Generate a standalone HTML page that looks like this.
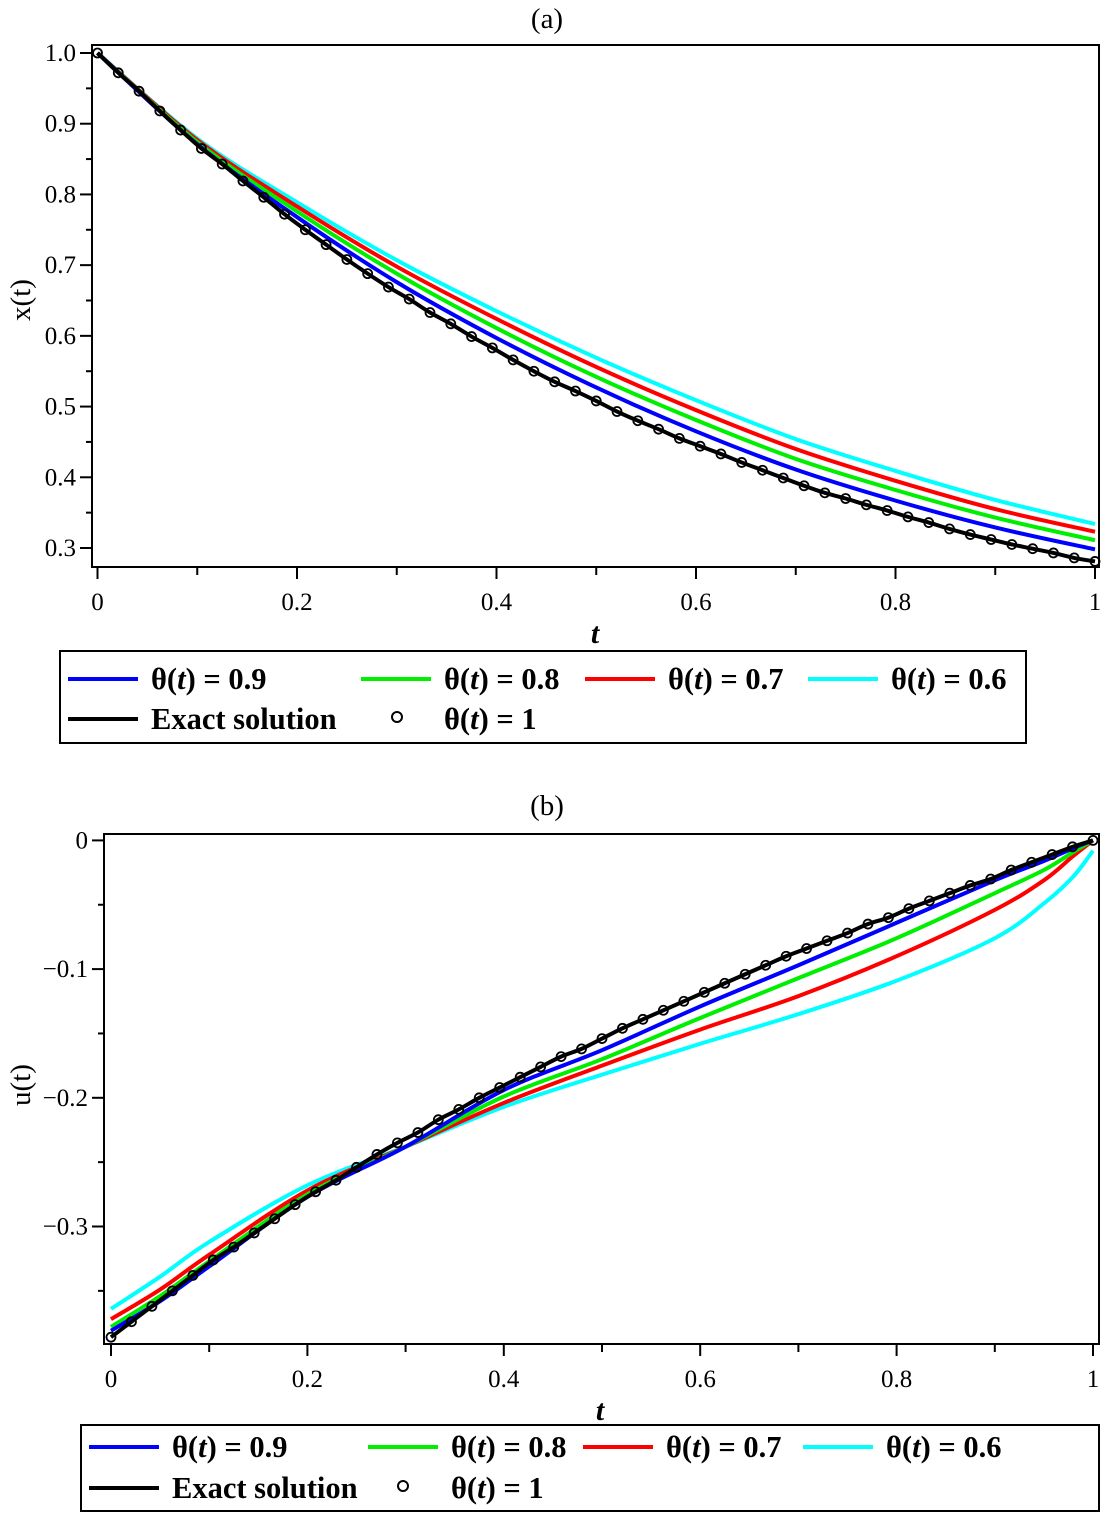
<!DOCTYPE html>
<html><head><meta charset="utf-8"><style>
body{margin:0;background:#fff}
svg{display:block}
text{font-family:"Liberation Serif",serif;fill:#000}
.tk{font-size:25px}
.lg{font-size:30.5px;font-weight:bold}
</style></head><body>
<svg id="s" width="1101" height="1513" viewBox="0 0 1101 1513"></svg>
<script>
// ---- Panel (a) data ----
const aT = [0,0.1,0.2,0.3,0.4,0.5,0.6,0.7,0.8,0.9,1];
const aBlue  = [1,0.871,0.768,0.676,0.597,0.527,0.465,0.411,0.367,0.329,0.298];
const aGreen = [1,0.874,0.776,0.688,0.611,0.542,0.481,0.426,0.382,0.343,0.311];
const aRed   = [1,0.877,0.783,0.698,0.624,0.556,0.495,0.440,0.395,0.355,0.323];
const aCyan  = [1,0.879,0.789,0.707,0.635,0.569,0.509,0.454,0.409,0.368,0.334];
const aExact = [1.0,0.972,0.946,0.918,0.891,0.865,0.843,0.819,0.796,0.772,0.750,0.729,0.708,0.688,0.669,0.652,0.633,0.617,0.599,0.583,0.566,0.550,0.535,0.522,0.508,0.493,0.480,0.468,0.455,0.444,0.433,0.421,0.410,0.399,0.388,0.378,0.370,0.361,0.353,0.344,0.336,0.327,0.319,0.312,0.305,0.299,0.293,0.286,0.281];
const aXTicks = ["0","0.2","0.4","0.6","0.8","1"];
const aYTicks = ["0.3","0.4","0.5","0.6","0.7","0.8","0.9","1.0"];
// ---- Panel (b) data ----
const bT = [0,0.05,0.1,0.2,0.3,0.4,0.5,0.6,0.7,0.8,0.9,0.95,0.98,1];
const bBlue  = [-0.381,-0.358,-0.331,-0.277,-0.238,-0.194,-0.163,-0.129,-0.097,-0.064,-0.031,-0.016,-0.006,0];
const bGreen = [-0.378,-0.354,-0.327,-0.275,-0.238,-0.199,-0.170,-0.138,-0.107,-0.076,-0.041,-0.023,-0.009,0];
const bRed   = [-0.372,-0.349,-0.322,-0.272,-0.238,-0.204,-0.175,-0.147,-0.121,-0.090,-0.054,-0.031,-0.012,0];
const bCyan  = [-0.364,-0.339,-0.312,-0.268,-0.238,-0.207,-0.182,-0.158,-0.135,-0.109,-0.076,-0.049,-0.028,-0.008];
const bExact = [-0.386,-0.374,-0.362,-0.350,-0.338,-0.326,-0.316,-0.305,-0.294,-0.283,-0.273,-0.264,-0.254,-0.244,-0.235,-0.227,-0.217,-0.209,-0.200,-0.192,-0.184,-0.176,-0.168,-0.162,-0.154,-0.146,-0.139,-0.132,-0.125,-0.118,-0.111,-0.104,-0.097,-0.090,-0.084,-0.078,-0.072,-0.065,-0.060,-0.053,-0.047,-0.041,-0.035,-0.030,-0.023,-0.017,-0.011,-0.005,0];
const bXTicks = ["0","0.2","0.4","0.6","0.8","1"];
const bYTicks = ["0","−0.1","−0.2","−0.3"];

const NS="http://www.w3.org/2000/svg";
const svg=document.getElementById('s');
function mk(tag,attrs,parent,txt){const e=document.createElementNS(NS,tag);for(const k in attrs)e.setAttribute(k,attrs[k]);if(txt!==undefined)e.textContent=txt;(parent||svg).appendChild(e);return e;}
function smooth(pts){let d="M"+pts[0][0].toFixed(2)+","+pts[0][1].toFixed(2);for(let i=0;i<pts.length-1;i++){const p0=pts[Math.max(0,i-1)],p1=pts[i],p2=pts[i+1],p3=pts[Math.min(pts.length-1,i+2)];const c1=[p1[0]+(p2[0]-p0[0])/6,p1[1]+(p2[1]-p0[1])/6],c2=[p2[0]-(p3[0]-p1[0])/6,p2[1]-(p3[1]-p1[1])/6];d+="C"+c1[0].toFixed(2)+","+c1[1].toFixed(2)+" "+c2[0].toFixed(2)+","+c2[1].toFixed(2)+" "+p2[0].toFixed(2)+","+p2[1].toFixed(2);}return d;}

function panel(cfg){
  const g=mk('g',{});
  
  
  const X=t=>cfg.x0+(cfg.x1-cfg.x0)*t;
  const Y=v=>cfg.yA+(cfg.yB-cfg.yA)*(v-cfg.vA)/(cfg.vB-cfg.vA);
  const tt=mk('text',{x:547,y:cfg.titleY,'text-anchor':'middle','font-size':'29'},g,cfg.title);
  
  
  for(let i=0;i<=10;i++){const t=i/10;const major=i%2==0;
    mk('line',{x1:X(t),x2:X(t),y1:cfg.fb,y2:cfg.fb+(major?12:8),stroke:'#000','stroke-width':2},g);}
  cfg.xt.forEach((l,i)=>{const e=mk('text',{x:X(i*0.2),y:cfg.fb+43,'text-anchor':'middle',class:'tk'},g,l);
    
    });
  cfg.yticks.forEach(v=>{mk('line',{x1:cfg.fl-12,x2:cfg.fl,y1:Y(v),y2:Y(v),stroke:'#000','stroke-width':2},g);});
  cfg.yminor.forEach(v=>{mk('line',{x1:cfg.fl-6,x2:cfg.fl,y1:Y(v),y2:Y(v),stroke:'#000','stroke-width':2},g);});
  cfg.yt.forEach((l,i)=>{const e=mk('text',{x:cfg.fl-16,y:Y(cfg.yticks[i])+8,'text-anchor':'end',class:'tk'},g,l);
    
    });
  const xl=mk('text',{x:cfg.tX,y:cfg.tY,'text-anchor':'middle','font-size':'30','font-weight':'bold','font-style':'italic'},g,'t');
  
  
  const yl=mk('text',{x:0,y:0,'text-anchor':'middle','font-size':'29',transform:`translate(${cfg.ylX},${cfg.ylY}) rotate(-90)`},g,cfg.ylab);
  
  
  cfg.series.forEach(s=>{
    const pts=s.t.map((t,i)=>[X(t),Y(s.v[i])]);
    const p=mk('path',{d:smooth(pts),fill:'none',stroke:s.c,'stroke-width':4,'stroke-linejoin':'round'},g);
    
    
  });
  const n=cfg.exact.length-1;
  const ep=cfg.exact.map((v,i)=>[X(i/n),Y(v)]);
  const pe=mk('path',{d:smooth(ep),fill:'none',stroke:'#000','stroke-width':4},g);
  
  
  cfg.exact.forEach((v,i)=>{const c=mk('circle',{cx:X(i/n),cy:Y(v),r:4.5,fill:'none',stroke:'#000','stroke-width':1.8},g);
    
    });
  const fr=mk('rect',{x:cfg.fl,y:cfg.ft,width:cfg.fr-cfg.fl,height:cfg.fb-cfg.ft,fill:'none',stroke:'#000','stroke-width':2},g);
  
  
  const L=cfg.leg;
  const lg=mk('g',{},g);
  
  
  mk('rect',{x:L.x,y:L.y,width:L.w,height:L.h,fill:'none',stroke:'#000','stroke-width':2},lg);
  const ent=[[L.c[0],L.r1,'#0000ff','0.9'],[L.c[1],L.r1,'#00ee00','0.8'],[L.c[2],L.r1,'#ff0000','0.7'],[L.c[3],L.r1,'#00ffff','0.6']];
  ent.forEach(e=>{const it=mk('g',{},lg);
    
    
    mk('line',{x1:e[0],x2:e[0]+70,y1:e[1],y2:e[1],stroke:e[2],'stroke-width':4},it);
    const tx=mk('text',{x:e[0]+83,y:e[1]+10,class:'lg'},it);
    tx.innerHTML='θ(<tspan font-style="italic">t</tspan>) = '+e[3];});
  const ex=mk('g',{},lg);
  
  
  mk('line',{x1:L.c[0],x2:L.c[0]+70,y1:L.r2,y2:L.r2,stroke:'#000','stroke-width':4},ex);
  mk('text',{x:L.c[0]+83,y:L.r2+10,class:'lg'},ex,'Exact solution');
  const e1=mk('g',{},lg);
  
  
  mk('circle',{cx:L.circ,cy:L.r2-2,r:5,fill:'none',stroke:'#000','stroke-width':2},e1);
  const t1=mk('text',{x:L.c[1]+83,y:L.r2+10,class:'lg'},e1);
  t1.innerHTML='θ(<tspan font-style="italic">t</tspan>) = 1';
}

panel({name:'panel-a',title:'(a)',titleY:28,x0:97.5,x1:1095,yA:548,yB:53,vA:0.3,vB:1.0,
  fl:92,fr:1099,ft:45,fb:567,xt:aXTicks,yt:aYTicks,
  yticks:[0.3,0.4,0.5,0.6,0.7,0.8,0.9,1.0],yminor:[0.35,0.45,0.55,0.65,0.75,0.85,0.95],
  tX:595,tY:643,ylab:'x(t)',ylX:30,ylY:300,
  series:[{t:aT,v:aCyan,c:'#00ffff',n:'theta-0.6-line'},{t:aT,v:aRed,c:'#ff0000',n:'theta-0.7-line'},{t:aT,v:aGreen,c:'#00ee00',n:'theta-0.8-line'},{t:aT,v:aBlue,c:'#0000ff',n:'theta-0.9-line'}],
  exact:aExact,
  leg:{x:60,y:651,w:966,h:92,r1:679,r2:719,c:[68,361,585,808],circ:397}});

panel({name:'panel-b',title:'(b)',titleY:815,x0:111,x1:1093,yA:840.4,yB:969.1,vA:0,vB:-0.1,
  fl:104,fr:1099,ft:834,fb:1344,xt:bXTicks,yt:bYTicks,
  yticks:[0,-0.1,-0.2,-0.3],yminor:[-0.05,-0.15,-0.25,-0.35],
  tX:600,tY:1420,ylab:'u(t)',ylX:30,ylY:1085,
  series:[{t:bT,v:bCyan,c:'#00ffff',n:'theta-0.6-line'},{t:bT,v:bRed,c:'#ff0000',n:'theta-0.7-line'},{t:bT,v:bGreen,c:'#00ee00',n:'theta-0.8-line'},{t:bT,v:bBlue,c:'#0000ff',n:'theta-0.9-line'}],
  exact:bExact,
  leg:{x:81,y:1425,w:1018,h:86,r1:1447,r2:1488,c:[89,368,583,803],circ:403}});
</script>
</body></html>
